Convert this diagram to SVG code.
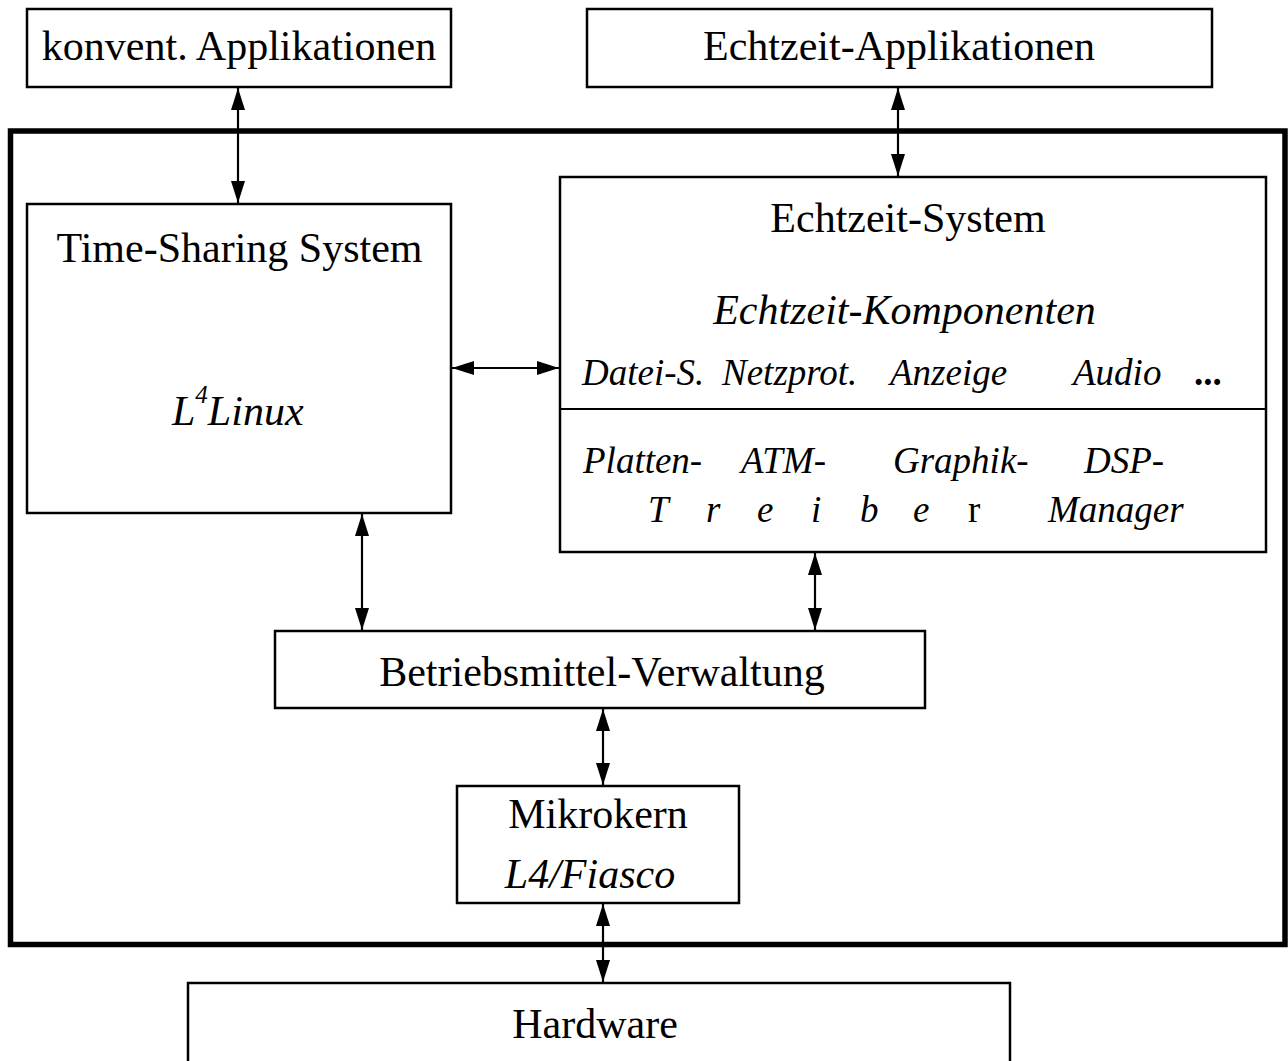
<svg xmlns="http://www.w3.org/2000/svg" width="1288" height="1061" viewBox="0 0 1288 1061">
<style>
.box{fill:#fff;stroke:#000;stroke-width:2.5}
.outer{fill:none;stroke:#000;stroke-width:5.5}
.t{font-family:"Liberation Serif","Times New Roman",serif;font-size:42px;fill:#000}
.i{font-style:italic}
.s{font-size:37px}
.c{text-anchor:middle}
.con line{stroke:#000;stroke-width:2.2;marker-start:url(#ah);marker-end:url(#ah)}
</style>
<defs>
<marker id="ah" viewBox="0 0 22 14" refX="22" refY="7" markerWidth="22" markerHeight="14" markerUnits="userSpaceOnUse" orient="auto-start-reverse">
<path d="M0,0 L22,7 L0,14 z" fill="#000"/>
</marker>
</defs>
<rect width="1288" height="1061" fill="#fff"/>
<g id="system-frame"><rect class="outer" x="10.5" y="131" width="1274.5" height="813.5"/></g>
<g id="konv-app"><rect class="box" x="27" y="9" width="424" height="78"/><text class="t c" x="239" y="60">konvent. Applikationen</text></g>
<g id="rt-app"><rect class="box" x="587" y="9" width="625" height="78"/><text class="t c" x="899" y="60">Echtzeit-Applikationen</text></g>
<g id="ts-system"><rect class="box" x="27" y="204" width="424" height="309"/><text class="t c" x="239.5" y="262">Time-Sharing System</text>
<text class="t i" x="172" y="425">L<tspan font-size="25" dy="-22">4</tspan><tspan dy="22">Linux</tspan></text></g>
<g id="rt-system"><rect class="box" x="560" y="177" width="706" height="375"/>
<line x1="560" y1="409" x2="1266" y2="409" stroke="#000" stroke-width="2"/>
<text class="t c" x="908" y="232">Echtzeit-System</text>
<text class="t i c" x="904.5" y="324">Echtzeit-Komponenten</text>
<text class="t i s" x="582" y="385">Datei-S.</text>
<text class="t i s" x="722" y="385">Netzprot.</text>
<text class="t i s" x="890" y="385">Anzeige</text>
<text class="t i s" x="1073" y="385">Audio</text>
<text class="t s" x="1194" y="385" font-weight="bold">...</text>
<text class="t i s" x="583" y="473">Platten-</text>
<text class="t i s" x="741" y="473">ATM-</text>
<text class="t i s" x="893" y="473">Graphik-</text>
<text class="t i s" x="1084" y="473">DSP-</text>
<text class="t i s" x="648 706 757 811 860 913" y="522">Treibe<tspan x="968" font-style="normal">r</tspan></text>
<text class="t i s" x="1048" y="522">Manager</text></g>
<g id="resource-mgmt"><rect class="box" x="275" y="631" width="650" height="77"/><text class="t c" x="602" y="686">Betriebsmittel-Verwaltung</text></g>
<g id="microkernel"><rect class="box" x="457" y="786" width="282" height="117"/><text class="t c" x="598" y="828">Mikrokern</text><text class="t i c" x="590" y="888">L4/Fiasco</text></g>
<g id="hardware"><rect class="box" x="188" y="983" width="822" height="100"/><text class="t c" x="595" y="1038">Hardware</text></g>
<g id="connectors" class="con">
<line x1="238" y1="88" x2="238" y2="203"/>
<line x1="898" y1="88" x2="898" y2="176"/>
<line x1="452" y1="368" x2="559" y2="368"/>
<line x1="362" y1="514" x2="362" y2="630"/>
<line x1="815" y1="553" x2="815" y2="630"/>
<line x1="603" y1="709" x2="603" y2="785"/>
<line x1="603" y1="904" x2="603" y2="982"/>
</g>
</svg>
